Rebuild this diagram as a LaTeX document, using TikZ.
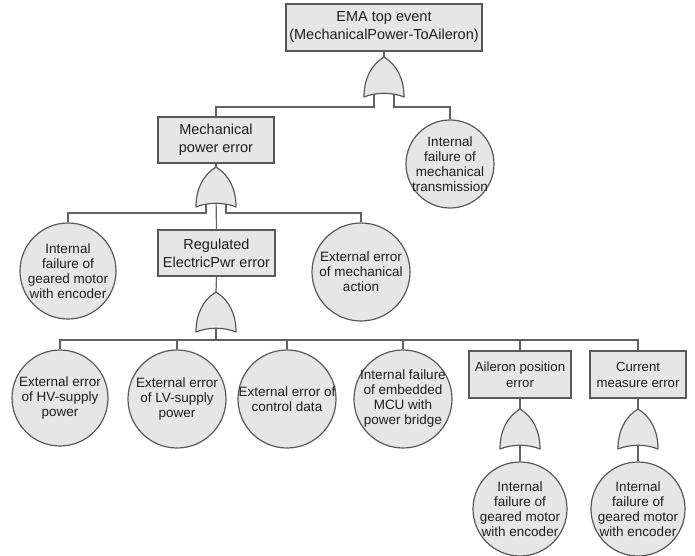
\documentclass[tikz,border=0pt]{standalone}
\usepackage{fontspec}
\setmainfont{Liberation Sans}
\usetikzlibrary{calc}
\pgfdeclarelayer{background}
\pgfsetlayers{background,main}
\definecolor{evfill}{HTML}{E6E6E6}
\definecolor{evline}{HTML}{595959}
\definecolor{wirec}{HTML}{626262}
\definecolor{txt}{HTML}{1E1E1E}

\begin{document}
\begin{tikzpicture}[x=1pt,y=-1pt,
  box/.style={draw=evline, fill=evfill, line width=1.2pt, inner sep=0pt,
    align=center, text=txt, font=\fontsize{14.5}{18}\selectfont},
  smallbox/.style={box, font=\fontsize{13.2}{16}\selectfont},
  evt/.style={circle, draw=evline, fill=evfill, line width=1.2pt, inner sep=0pt},
  evtxt/.style={align=center, text=txt, inner sep=0pt,
    font=\fontsize{13.5}{15}\selectfont},
  wire/.style={draw=wirec, line width=1.2pt},
  orgate/.pic={
    \path[draw=evline, fill=evfill, line width=1.2pt, line join=round]
      (-20,40) .. controls (-20,22) and (-13,8) .. (0,0)
      .. controls (13,8) and (20,22) .. (20,40)
      .. controls (8,35) and (-8,35) .. (-20,40) -- cycle;
    \coordinate (-top) at (0,0);
    \coordinate (-left) at (-10,30);
    \coordinate (-right) at (10,30);
    \coordinate (-out) at (0,30);
  }
]
\useasboundingbox (0,0) rectangle (695,556);

% levels of the horizontal distribution lines
\coordinate (bus1) at (0,107);
\coordinate (bus2) at (0,213);
\coordinate (bus3) at (0,340);

% top event and its OR gate
\node[box, minimum width=196pt, minimum height=47pt] (top) at (384,27.5)
  {EMA top event\\(MechanicalPower-ToAileron)};
\pic (g1) at (384,57) {orgate};
\node[evt, minimum size=88pt,
  label={[evtxt]center:{Internal\\failure of\\mechanical\\transmission}}]
  (mtrans) at (450,164) {};

% mechanical power branch
\node[box, minimum width=116pt, minimum height=46pt] (mech) at (216,140)
  {Mechanical\\power error};
\pic (g2) at (216,167) {orgate};
\node[evt, minimum size=96pt,
  label={[evtxt]center:{Internal\\failure of\\geared motor\\with encoder}}]
  (geared) at (68,271) {};
\node[evt, minimum size=98pt,
  label={[evtxt]center:{External error\\of mechanical\\action}}]
  (mechact) at (361,272) {};

% regulated electric power branch
\node[box, minimum width=117pt, minimum height=46pt] (reg) at (216.5,253)
  {Regulated\\ElectricPwr error};
\pic (g3) at (216,292) {orgate};
\node[evt, minimum size=96pt,
  label={[evtxt]center:{External error\\of HV-supply\\power}}]
  (hv) at (60,398) {};
\node[evt, minimum size=98pt,
  label={[evtxt]center:{External error\\of LV-supply\\power}}]
  (lv) at (177,399) {};
\node[evt, minimum size=98pt,
  label={[evtxt]center:{External error of\\control data}}]
  (ctrl) at (287,399) {};
\node[evt, minimum size=98pt,
  label={[evtxt]center:{Internal failure\\of embedded\\MCU with\\power bridge}}]
  (mcu) at (403,399) {};

% sensor branches
\node[smallbox, minimum width=102pt, minimum height=47pt] (ail) at (520,374.5)
  {Aileron position\\error};
\node[smallbox, minimum width=96pt, minimum height=47pt] (cur) at (638,374.5)
  {Current\\measure error};
\pic (g4) at (520,409) {orgate};
\pic (g5) at (638,409) {orgate};
\node[evt, minimum size=94pt,
  label={[evtxt]center:{Internal\\failure of\\geared motor\\with encoder}}]
  (enc1) at (520,509) {};
\node[evt, minimum size=94pt,
  label={[evtxt]center:{Internal\\failure of\\geared motor\\with encoder}}]
  (enc2) at (638,509) {};

% connectors, drawn beneath the gates
\begin{pgfonlayer}{background}
  \draw[wire] (top.south) -- (g1-top);
  \draw[wire] (g1-left) -- (g1-left |- bus1) -| (mech.north);
  \draw[wire] (g1-right) -- (g1-right |- bus1) -| (mtrans.north);
  \draw[wire] (mech.south) -- (g2-top);
  \draw[wire] (g2-left) -- (g2-left |- bus2) -| (geared.north);
  \draw[wire] (g2-right) -- (g2-right |- bus2) -| (mechact.north);
  \draw[wire] (g2-out) -- (reg.north);
  \draw[wire] (reg.south) -- (g3-top);
  \foreach \t in {hv,lv,ctrl,mcu,ail,cur}
    \draw[wire] (g3-out) -- (g3-out |- bus3) -| (\t.north);
  \draw[wire] (ail.south) -- (g4-top);
  \draw[wire] (g4-out) -- (enc1.north);
  \draw[wire] (cur.south) -- (g5-top);
  \draw[wire] (g5-out) -- (enc2.north);
\end{pgfonlayer}
\end{tikzpicture}
\end{document}
